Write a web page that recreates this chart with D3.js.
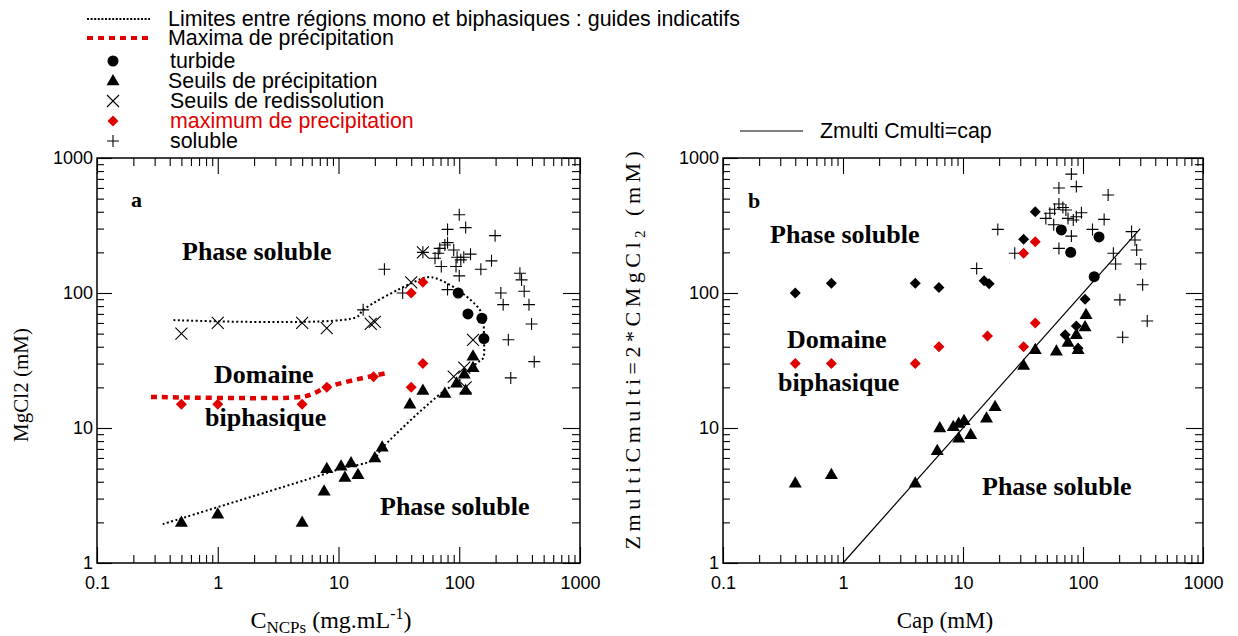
<!DOCTYPE html>
<html><head><meta charset="utf-8">
<script src="https://cdn.jsdelivr.net/npm/d3@7"></script>
<style>
body{margin:0;background:#fff;}
svg{display:block;}
.tick text{font-family:"Liberation Sans",Arial,sans-serif;font-size:18px;fill:#000;}
</style></head>
<body><svg id="chart" width="1238" height="636"></svg>
<script>
// ---------- DATA ----------
const xTickValues = [0.1, 1, 10, 100, 1000];
const yTickValues = [1, 10, 100, 1000];
const xTickLabels = ["0.1", "1", "10", "100", "1000"];
const yTickLabels = ["1", "10", "100", "1000"];

const legendLabels = [
  "Limites entre régions mono et biphasiques : guides indicatifs",
  "Maxima de précipitation",
  "turbide",
  "Seuils de précipitation",
  "Seuils de redissolution",
  "maximum de precipitation",
  "soluble"
];

// Panel a : C_NCPs (mg/mL) vs MgCl2 (mM)
const aTurbide = [[98,100],[118,70],[154,65],[160,46]];
const aSeuilsPrecip = [[0.5,2],[1,2.3],[5,2],[7.6,3.4],[8,5],[10.5,5.2],[11.3,4.3],[12.7,5.5],[14.5,4.5],[20,6],[23,7.2],[39,15],[50,19],[76,18],[95,21.5],[113,19],[110,25],[130,28],[130,34]];
const aSeuilsRedissol = [[0.5,50],[1,60],[5,60],[8,55],[18.5,59],[20,61],[40,120],[50,200],[130,45],[110,28],[90,24],[113,20]];
const aMaxPrecip = [[0.5,15],[1,15],[5,15],[8,20],[19.5,24],[40,20],[50,30],[40,100],[50,120]];
const aSoluble = [[24,150],[34,100],[16,75],[50,200],[63,181],[67,197],[69,214],[76,227],[80,236],[71,157],[90,208],[96,184],[103,176],[109,184],[124,194],[94,157],[100,134],[80,296],[100,380],[113,305],[198,266],[185,173],[151,150],[80,106],[221,100],[231,82],[318,140],[328,125],[345,103],[378,82],[397,59],[255,45],[418,31],[267,23.5]];
const aLimitLine = [[0.35,1.94],[7.3,4.5],[10.9,5.05],[19.3,5.8],[23.3,7.2],[73,18.5],[95,21.5],[120,27],[145,31],[158,33],[160,46],[158,62],[148,75],[98,105],[65,128],[55,131],[40,118],[16,75],[14,66],[0.43,63]];
const aMaximaLine = [[0.28,17],[5,17],[6,17.8],[8,20],[13,22.5],[25,25.5]];

// Panel b : Cap (mM) vs Zmulti*Cmulti (mM)
const bTurbide = [[66,293],[79,200],[136,260],[124,132]];
const bSeuilsPrecip = [[0.4,3.9],[0.8,4.5],[4,3.9],[6.1,6.8],[6.4,10],[8.3,10.2],[9.2,10.8],[10.2,11.3],[9.2,8.4],[11.6,8.9],[15.7,11.8],[18.5,14.4],[32,29],[40,38],[60,37],[75,43],[88,49],[91,38],[104,56],[106,69]];
const bBlackDiamonds = [[0.4,100],[0.8,118],[4,118],[6.3,110],[15,123],[16.5,117],[32,250],[40,400],[104,90],[71,49],[88,57],[91,39]];
const bMaxPrecip = [[0.4,30],[0.8,30],[4,30],[6.3,40],[16,48],[32,40],[40,60],[32,197],[40,240]];
const bSoluble = [[13,152],[19.5,296],[27,197],[49,357],[53,390],[58,417],[63,456],[68,430],[72,412],[57,320],[75,357],[83,347],[88,367],[97,393],[80,264],[63,214],[63,600],[80,760],[88,614],[162,532],[150,351],[120,296],[179,197],[187,164],[254,285],[271,247],[280,208],[302,164],[314,115],[203,89],[343,62],[214,47]];
const bCapLine = [[1,1],[300,300]];

// ---------- DRAW ----------
const svg = d3.select("#chart");
const serif = '"Liberation Serif","Times New Roman",serif';
const sans = '"Liberation Sans",Arial,sans-serif';
const RED = "#e00000";

const yTop = 158, yBot = 563;
const xa = d3.scaleLog().domain([0.1,1000]).range([97,580]);
const xb = d3.scaleLog().domain([0.1,1000]).range([723,1203]);
const ya = d3.scaleLog().domain([1,1000]).range([yBot,yTop]);
const yb = d3.scaleLog().domain([1,1000]).range([yBot,yTop]);

const minorVals = [];
[0.1,1,10,100].forEach(d=>{for(let k=2;k<=9;k++) minorVals.push(d*k);});
const minorY = [];
[1,10,100].forEach(d=>{for(let k=2;k<=9;k++) minorY.push(d*k);});

function frame(x, y){
  const g = svg.append("g");
  const [x0,x1] = x.range(); const [y0,y1] = y.range();
  const fx = (i)=>xTickLabels[xTickValues.indexOf(i)];
  const fy = (i)=>yTickLabels[yTickValues.indexOf(i)];
  g.append("g").attr("transform",`translate(0,${y0})`)
    .call(d3.axisBottom(x).tickValues(xTickValues).tickFormat(fx).tickSize(-16).tickPadding(13));
  g.append("g").attr("transform",`translate(0,${y0})`)
    .call(d3.axisBottom(x).tickValues(minorVals).tickFormat("").tickSize(-8));
  g.append("g").attr("transform",`translate(0,${y1})`)
    .call(d3.axisTop(x).tickValues(xTickValues).tickFormat("").tickSize(-16));
  g.append("g").attr("transform",`translate(0,${y1})`)
    .call(d3.axisTop(x).tickValues(minorVals).tickFormat("").tickSize(-8));
  g.append("g").attr("transform",`translate(${x0},0)`)
    .call(d3.axisLeft(y).tickValues(yTickValues).tickFormat(fy).tickSize(-15).tickPadding(4));
  g.append("g").attr("transform",`translate(${x0},0)`)
    .call(d3.axisLeft(y).tickValues(minorY).tickFormat("").tickSize(-7));
  g.append("g").attr("transform",`translate(${x1},0)`)
    .call(d3.axisRight(y).tickValues(yTickValues).tickFormat("").tickSize(-17));
  g.append("g").attr("transform",`translate(${x1},0)`)
    .call(d3.axisRight(y).tickValues(minorY).tickFormat("").tickSize(-8));
  g.selectAll(".domain").remove();
  g.selectAll(".tick line").attr("stroke","#000").attr("stroke-width",1.1);
  g.selectAll(".tick text").attr("fill","#000").style("font-family",sans).style("font-size","18px");
  g.append("rect").attr("x",x0).attr("y",y1).attr("width",x1-x0).attr("height",y0-y1)
    .attr("fill","none").attr("stroke","#000").attr("stroke-width",1.5);
}

const pathCircle = (r)=>`M${-r},0A${r},${r} 0 1,0 ${r},0A${r},${r} 0 1,0 ${-r},0Z`;
const pathTri = (s)=>{const h=s*0.866; return `M0,${-h*0.62}L${s/2},${h*0.38}L${-s/2},${h*0.38}Z`;};
const pathDiamond = (s)=>`M0,${-s}L${s},0L0,${s}L${-s},0Z`;
const pathPlus = (s)=>`M${-s},0H${s}M0,${-s}V${s}`;
const pathX = (s)=>`M${-s},${-s}L${s},${s}M${-s},${s}L${s},${-s}`;

function markers(data, x, y, d, fill, stroke){
  svg.append("g").selectAll("path").data(data).join("path")
    .attr("transform",p=>`translate(${x(p[0])},${y(p[1])})`)
    .attr("d",d)
    .attr("fill",fill||"none")
    .attr("stroke",stroke||"none")
    .attr("stroke-width",1.1);
}

frame(xa, ya);
frame(xb, yb);

const lineA = d3.line().x(p=>xa(p[0])).y(p=>ya(p[1])).curve(d3.curveCatmullRom.alpha(0.5));
svg.append("path").datum(aLimitLine).attr("d",lineA).attr("fill","none")
  .attr("stroke","#000").attr("stroke-width",2).attr("stroke-dasharray","2,2.5");
svg.append("path").datum(aMaximaLine).attr("d",lineA).attr("fill","none")
  .attr("stroke",RED).attr("stroke-width",4.5).attr("stroke-dasharray","6,5");

const lineB = d3.line().x(p=>xb(p[0])).y(p=>yb(p[1]));
svg.append("path").datum(bCapLine).attr("d",lineB).attr("fill","none")
  .attr("stroke","#000").attr("stroke-width",1.2);

markers(aSoluble, xa, ya, pathPlus(6), null, "#000");
markers(aSeuilsRedissol, xa, ya, pathX(6), null, "#000");
markers(aMaxPrecip, xa, ya, pathDiamond(5.5), RED);
markers(aSeuilsPrecip, xa, ya, pathTri(13), "#000");
markers(aTurbide, xa, ya, pathCircle(5.5), "#000");

markers(bSoluble, xb, yb, pathPlus(6), null, "#000");
markers(bBlackDiamonds, xb, yb, pathDiamond(5.5), "#000");
markers(bMaxPrecip, xb, yb, pathDiamond(5.5), RED);
markers(bSeuilsPrecip, xb, yb, pathTri(13), "#000");
markers(bTurbide, xb, yb, pathCircle(5.5), "#000");

// Legend (panel a)
const leg = svg.append("g");
const legY = [19,38,61,81,101,121,141];
leg.append("line").attr("x1",87).attr("x2",150).attr("y1",legY[0]).attr("y2",legY[0])
  .attr("stroke","#000").attr("stroke-width",2).attr("stroke-dasharray","2,1.6");
leg.append("line").attr("x1",87).attr("x2",148).attr("y1",legY[1]).attr("y2",legY[1])
  .attr("stroke",RED).attr("stroke-width",4).attr("stroke-dasharray","6,5");
const legSym = [null,null,{d:pathCircle(5.5),f:"#000"},{d:pathTri(13),f:"#000"},{d:pathX(6),s:"#000"},{d:pathDiamond(5.5),f:RED},{d:pathPlus(6),s:"#000"}];
legSym.forEach((s,i)=>{ if(!s) return;
  leg.append("path").attr("transform",`translate(113,${legY[i]})`).attr("d",s.d)
    .attr("fill",s.f||"none").attr("stroke",s.s||"none").attr("stroke-width",1.1);
});
const legTx = [168,168,170,168,170,170,170];
legendLabels.forEach((t,i)=>{
  leg.append("text").attr("x",legTx[i]).attr("y",legY[i]+7).text(t)
    .attr("fill", i===5?RED:"#000").style("font-family",sans).style("font-size","21.4px");
});

// Legend (panel b)
svg.append("line").attr("x1",740).attr("x2",803).attr("y1",131).attr("y2",131).attr("stroke","#000").attr("stroke-width",1.2);
svg.append("text").attr("x",820).attr("y",138).text("Zmulti Cmulti=cap")
  .style("font-family",sans).style("font-size","21.4px");

// Region labels
function label(x,y,t,size){
  svg.append("text").attr("x",x).attr("y",y).text(t)
    .style("font-family",serif).style("font-weight","bold").style("font-size",(size||26)+"px");
}
label(131,207,"a",22);
label(182,260,"Phase soluble");
label(214,383,"Domaine");
label(205,426,"biphasique");
label(380,515,"Phase soluble");
label(748,208,"b",22);
label(770,243,"Phase soluble");
label(787,348,"Domaine");
label(778,391,"biphasique");
label(982,495,"Phase soluble");

// Axis titles
const xt1 = svg.append("text").attr("x",331).attr("y",628).attr("text-anchor","middle")
  .style("font-family",serif).style("font-size","24px");
xt1.append("tspan").text("C");
xt1.append("tspan").attr("dy",5).style("font-size","17px").text("NCPs");
xt1.append("tspan").attr("dy",-5).text(" (mg.mL");
xt1.append("tspan").attr("dy",-9).style("font-size","16px").text("-1");
xt1.append("tspan").attr("dy",9).text(")");

svg.append("text").attr("x",945).attr("y",628).attr("text-anchor","middle")
  .style("font-family",serif).style("font-size","23px").text("Cap (mM)");

svg.append("text").attr("transform","translate(28,385) rotate(-90)").attr("text-anchor","middle")
  .style("font-family",serif).style("font-size","21px").text("MgCl2 (mM)");

const yt2 = svg.append("text").attr("transform","translate(640,348) rotate(-90)").attr("text-anchor","middle")
  .style("font-family",serif).style("font-size","22px").style("letter-spacing","4.5px");
yt2.append("tspan").text("ZmultiCmulti=2*CMgCl");
yt2.append("tspan").attr("dy",5).style("font-size","15px").text("2");
yt2.append("tspan").attr("dy",-5).text(" (mM)");
</script></body></html>
